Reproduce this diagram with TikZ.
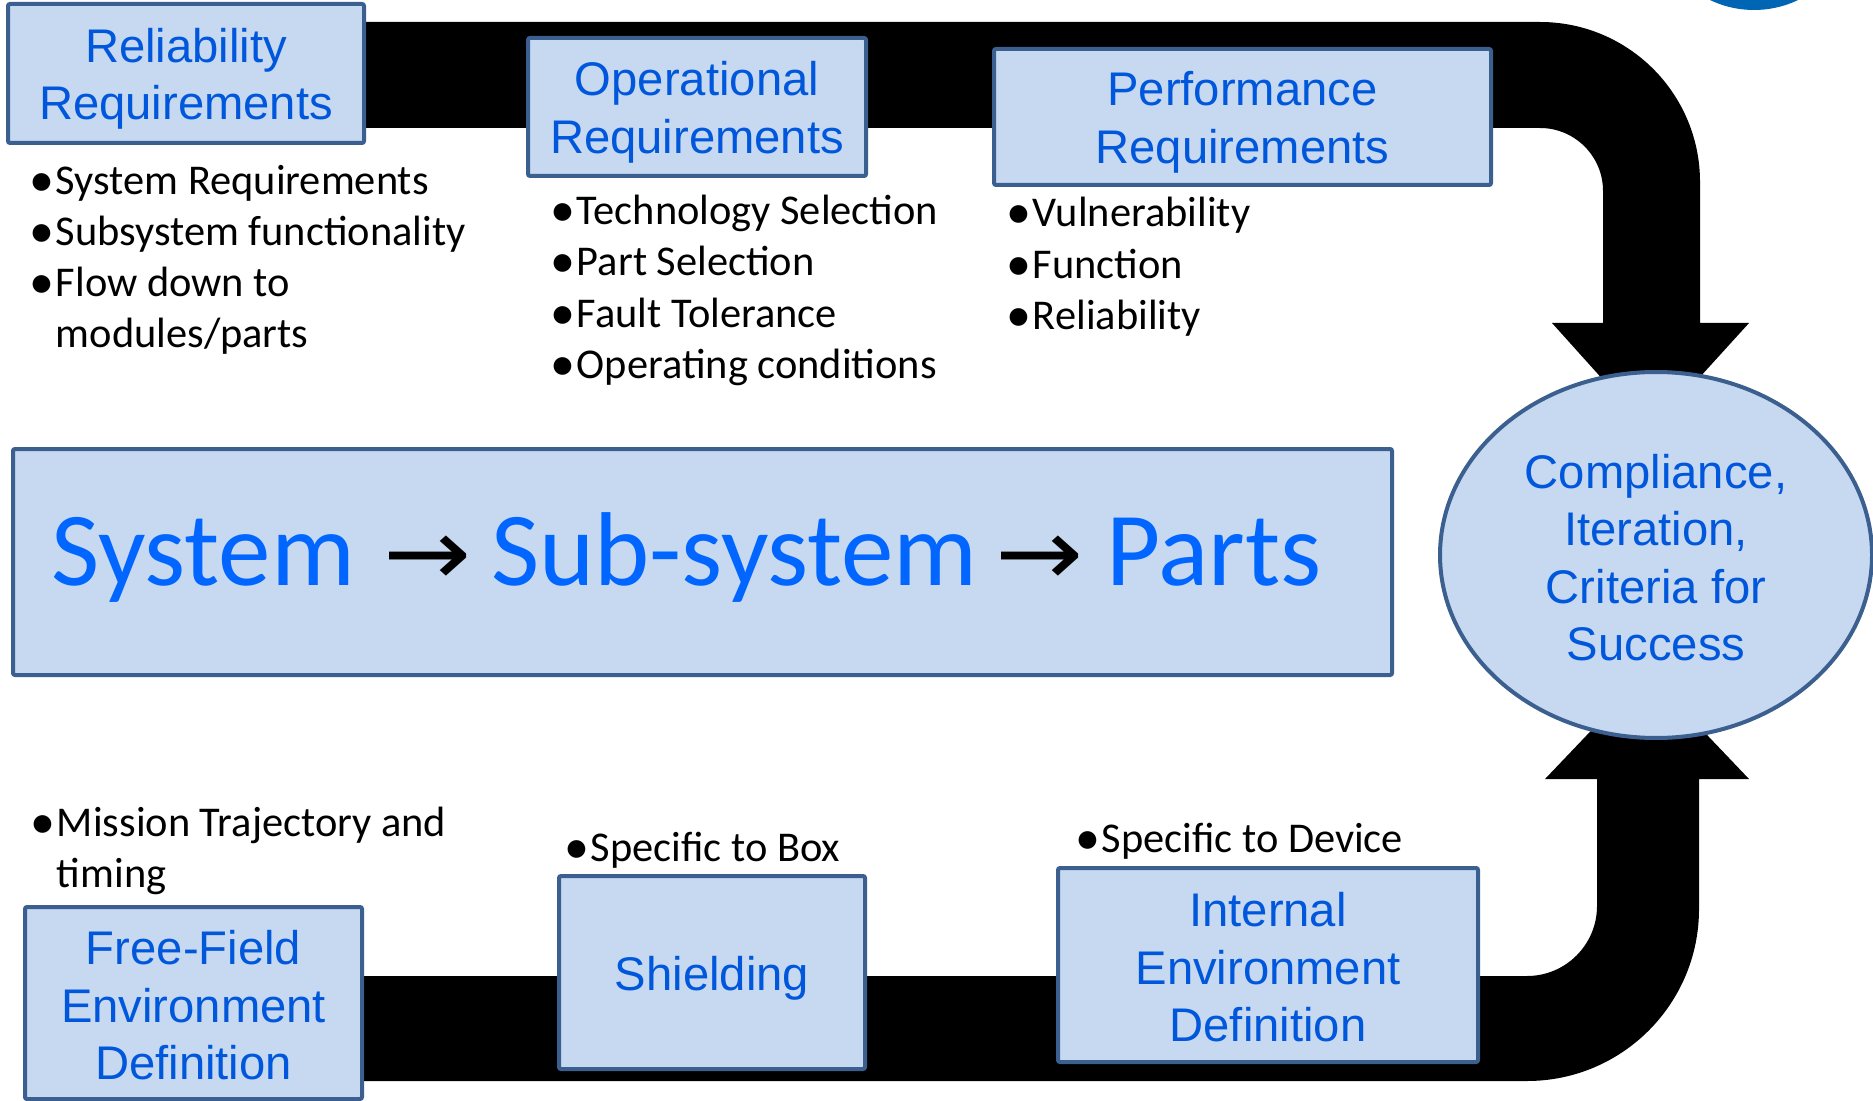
\documentclass[tikz,border=0pt]{standalone}
\usepackage{fontspec}
\usepackage{graphicx}
\setmainfont{Carlito}
\newfontfamily\arialf{Liberation Sans}
\newfontfamily\djvf{DejaVu Sans}
\usetikzlibrary{shapes.geometric}
\definecolor{boxfill}{HTML}{C6D9F0}
\definecolor{boxdraw}{HTML}{3B5F8E}
\definecolor{titlecol}{HTML}{0057DC}
\definecolor{bigcol}{HTML}{0066FF}
\definecolor{logoblue}{HTML}{0066B3}
\tikzset{
  req/.style={draw=boxdraw, fill=boxfill, line width=2pt, rounded corners=1pt,
    inner sep=0pt, align=center, text=titlecol,
    font=\arialf\fontsize{23.6}{28.8}\selectfont},
  bul/.style={anchor=base west, inner sep=0pt, text=black,
    font=\fontsize{21.2}{25.7}\selectfont},
  band/.style={fill=black}
}
\newcommand\bitem[1]{\makebox[11.5pt][l]{\hspace{-1.5pt}\smash{\raisebox{-1pt}{\fontsize{25}{25}\selectfont\textbullet}}}#1}
\newcommand\bcont[1]{\hspace*{11.5pt}#1}
\newcommand\lift[1]{\rule{0pt}{#1}}
\newcommand\flowarrow{{\color{black}\djvf\fontsize{47}{50}\selectfont\scalebox{1.12}[1]{→}}}
\begin{document}
\begin{tikzpicture}[x=0.5pt,y=-0.5pt]
\useasboundingbox (0,0) rectangle (1873,1101);
% logo fragment at top right
\begin{scope}
  \clip (0,0) rectangle (1873,1101);
  \fill[logoblue] (1754,-92) circle[radius=102];
\end{scope}
% top band with arrow
\fill[band] (300,22) -- (1540,22) arc[start angle=-90,end angle=0,radius=160]
  -- (1700,323) -- (1749,323) -- (1650,432) -- (1552,323) -- (1603,323)
  -- (1603,191) arc[start angle=0,end angle=-90,radius=63]
  -- (300,128) -- cycle;
% bottom band with arrow
\fill[band] (300,976) -- (1527,976) arc[start angle=90,end angle=0,radius=70]
  -- (1597,779) -- (1545,779) -- (1647,672) -- (1749,779) -- (1699,779)
  -- (1699,909) arc[start angle=0,end angle=90,radius=172]
  -- (300,1081) -- cycle;
% boxes
\node[req, minimum width=178pt, minimum height=69.5pt] (rel) at (186,73.5) {\lift{22.4pt}Reliability\\Requirements};
\node[req, minimum width=169pt, minimum height=69pt] (ops) at (697,107) {\lift{22.4pt}Operational\\Requirements};
\node[req, minimum width=248.5pt, minimum height=68pt] (perf) at (1242.5,117) {\lift{22.4pt}Performance\\Requirements};
\node[req, minimum width=689.5pt, minimum height=113pt] (sys) at (702.5,562) {};
\node[req, minimum width=168.5pt, minimum height=96pt] (ff) at (193.5,1003) {\lift{19.4pt}Free-Field\\Environment\\Definition};
\node[req, minimum width=153pt, minimum height=96.5pt] (shield) at (712,972.5) {\lift{22.4pt}Shielding};
\node[req, minimum width=210pt, minimum height=97pt] (ied) at (1268,965) {\lift{19.4pt}Internal\\Environment\\Definition};
\node[req, ellipse, minimum width=216pt, minimum height=183pt] (cmp) at (1656,555) {\lift{19.8pt}Compliance,\\Iteration,\\Criteria for\\Success};
% big text
\node[anchor=base west, inner sep=0pt, text=bigcol, font=\fontsize{52.5}{60}\selectfont] (flow) at (51,585)
  {System\hspace{14.5pt}\flowarrow\hspace{9.6pt}Sub-system\hspace{9pt}\flowarrow\hspace{11pt}Parts};
% bullets
\node[bul] (r1) at (32.5,195) {\bitem{System Requirements}};
\node[bul] (r2) at (32.5,246) {\bitem{Subsystem functionality}};
\node[bul] (r3) at (32.5,297) {\bitem{Flow down to}};
\node[bul] (r4) at (32.5,348) {\bcont{modules/parts}};
\node[bul] (o1) at (553.5,225) {\bitem{Technology Selection}};
\node[bul] (o2) at (553.5,276) {\bitem{Part Selection}};
\node[bul] (o3) at (553.5,327.5) {\bitem{Fault Tolerance}};
\node[bul] (o4) at (553.5,379) {\bitem{Operating conditions}};
\node[bul] (p1) at (1009.5,227) {\bitem{Vulnerability}};
\node[bul] (p2) at (1009.5,279) {\bitem{Function}};
\node[bul] (p3) at (1009.5,330) {\bitem{Reliability}};
\node[bul] (m1) at (33.5,836) {\bitem{Mission Trajectory and}};
\node[bul] (m2) at (33.5,887) {\bcont{timing}};
\node[bul] (b1) at (567.5,861) {\bitem{Specific to Box}};
\node[bul] (d1) at (1078.5,852) {\bitem{Specific to Device}};
\end{tikzpicture}
\end{document}
